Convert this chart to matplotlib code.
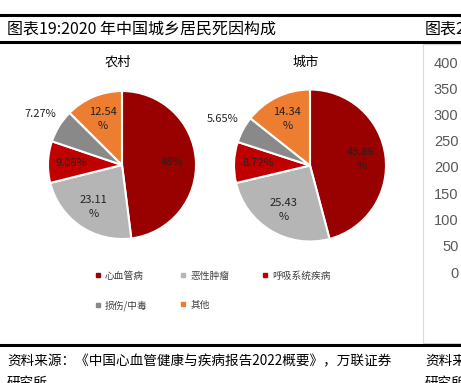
import matplotlib.pyplot as plt
from matplotlib.lines import Line2D
import numpy as np

plt.rcParams['font.family'] = ['Noto Sans CJK SC', 'DejaVu Sans']

# 데이터
categories = ['心血管病', '恶性肿瘤', '呼吸系统疾病', '损伤/中毒', '其他']
rural = [48.0, 23.11, 9.09, 7.27, 12.54]
urban = [45.86, 25.43, 8.72, 5.65, 14.34]
rural_labels = ['48%', '23.11\n%', '9.09%', '7.27%', '12.54\n%']
urban_labels = ['45.86\n%', '25.43\n%', '8.72%', '5.65%', '14.34\n%']
colors = ['#990000', '#B5B5B5', '#C00000', '#898989', '#ED7D31']
right_ticks = [0, 50, 100, 150, 200, 250, 300, 350, 400]

W, H = 461, 383
fig = plt.figure(figsize=(W / 100, H / 100), dpi=100)


def fx(x):
    return x / W


def fy(y):
    return 1 - y / H


def draw_pie(cx, cy, r, values, labels, title, outer_idx):
    ax = fig.add_axes([fx(cx - r), fy(cy + r), 2 * r / W, 2 * r / H])
    wedges, _ = ax.pie(values, colors=colors, startangle=90, counterclock=False,
                       wedgeprops=dict(edgecolor='white', linewidth=1.5))
    ax.set_xlim(-1, 1)
    ax.set_ylim(-1, 1)
    for i, w in enumerate(wedges):
        ang = np.deg2rad((w.theta1 + w.theta2) / 2)
        d = 1.3 if i == outer_idx else 0.68
        ax.text(d * np.cos(ang), d * np.sin(ang), labels[i], ha='center', va='center',
                fontsize=8, color='#222222', linespacing=1.5)
    fig.text(fx(cx - 4), fy(62), title, ha='center', va='center', fontsize=9.5)
    return wedges


draw_pie(122, 165, 74, rural, rural_labels, '农村', 3)
draw_pie(310, 165.5, 76, urban, urban_labels, '城市', 3)

# 범례 (행 우선 순서로 재배열)
handles = [Line2D([], [], marker='s', linestyle='', markersize=2.5, color=c) for c in colors]
order = [0, 3, 1, 4, 2]
fig.legend([handles[i] for i in order], [categories[i] for i in order],
           loc='upper left', bbox_to_anchor=(fx(90), fy(266)), ncol=3, frameon=False,
           fontsize=7, handlelength=0.6, handletextpad=0.4, columnspacing=3.4,
           labelspacing=1.95, borderpad=0, labelcolor='#404040')

# 오른쪽 잘린 차트
axr = fig.add_axes([fx(423), fy(343), 60 / W, (343 - 44) / H])
px = 400 / (272 - 62)
axr.set_ylim(-(343 - 272) * px, 400 + (62 - 44) * px)
axr.set_yticks(right_ticks)
axr.tick_params(axis='y', length=0, pad=-25.5, labelsize=10.5, labelcolor='#595959')
for t in axr.get_yticklabels():
    t.set_family('Liberation Sans')
axr.set_xticks([])
for s in axr.spines.values():
    s.set_color('#d9d9d9')

# 머리글/바닥 선
for y, lw in [(15, 2.2), (42, 2.2), (345, 2.2)]:
    fig.add_artist(Line2D([0, fx(415)], [fy(y), fy(y)], color='black', lw=lw))
    fig.add_artist(Line2D([fx(418), 1], [fy(y), fy(y)], color='black', lw=lw))

fig.text(fx(7), fy(29), '图表19:2020 年中国城乡居民死因构成', ha='left', va='center', fontsize=11.5)
fig.text(fx(425), fy(29), '图表20', ha='left', va='center', fontsize=11.5)
fig.text(fx(7), fy(361), '资料来源：《中国心血管健康与疾病报告2022概要》，万联证券',
         ha='left', va='center', fontsize=9.8, style='italic')
fig.text(fx(7), fy(383), '研究所', ha='left', va='center', fontsize=9.8, style='italic')
fig.text(fx(425), fy(361), '资料来源：', ha='left', va='center', fontsize=9.8, style='italic')
fig.text(fx(425), fy(383), '研究所', ha='left', va='center', fontsize=9.8, style='italic')

fig.savefig('out.png', dpi=100)
